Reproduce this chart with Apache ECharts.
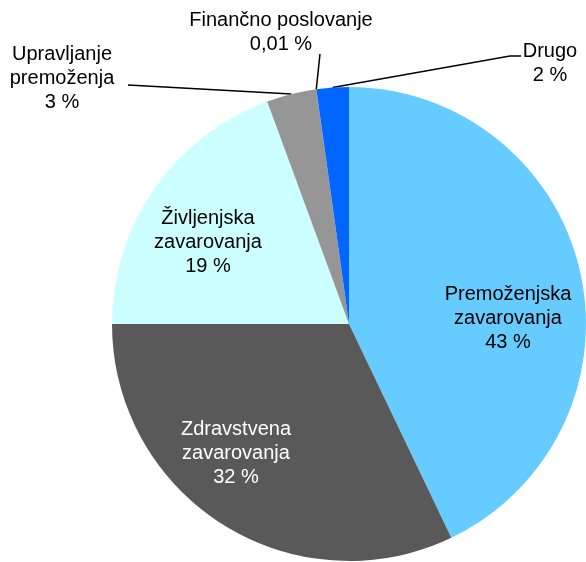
<!DOCTYPE html>
<html><head><meta charset="utf-8">
<script src="https://cdn.jsdelivr.net/npm/echarts@6/dist/echarts.min.js"></script>
<style>html,body{margin:0;padding:0;background:#fff}#c{width:586px;height:562px}</style>
</head><body><div id="c"></div>
<script>
// ---- data ----
const categories = ['Premoženjska\nzavarovanja', 'Zdravstvena\nzavarovanja', 'Življenjska\nzavarovanja', 'Upravljanje\npremoženja', 'Finančno poslovanje', 'Drugo'];
const shares = [42.9, 32.1, 19.4, 3.4, 0.01, 2.2];

// ---- styles / layout ----
const colors = ['#66CCFF', '#595959', '#CCFFFF', '#969696', '#7F7F7F', '#0066FF'];
const textColors = ['#000', '#fff', '#000', '#000', '#000', '#000'];
const outside = [false, false, false, true, true, true];
const labelAnchor = [[508, 318], [236, 453], [208, 242], [62, 78], [281, 32], [550, 63]];
const lineEnds = [null, null, null, [[128, 85]], [[320, 54]], [[510, 56], [521, 56]]];
const CX = 349, CY = 324, R = 237;

function fmtPct(v) {
  return (v >= 1 ? String(Math.round(v)) : String(v).replace('.', ',')) + ' %';
}

const total = shares.reduce((a, b) => a + b, 0);
function arcPoint(i) {
  let cum = 0;
  for (let k = 0; k < i; k++) cum += shares[k];
  const mid = (cum + shares[i] / 2) / total * Math.PI * 2;
  return [CX + R * Math.sin(mid), CY - R * Math.cos(mid)];
}

const data = categories.map((name, i) => ({
  name: name,
  value: shares[i],
  itemStyle: { color: colors[i] },
  label: { position: outside[i] ? 'outside' : 'inside', color: textColors[i] },
  labelLine: { show: outside[i] }
}));

const chart = echarts.init(document.getElementById('c'), null, { renderer: 'canvas' });
chart.setOption({
  animation: false,
  series: [{
    type: 'pie',
    center: [CX, CY],
    radius: R,
    startAngle: 90,
    clockwise: true,
    avoidLabelOverlap: false,
    silent: true,
    itemStyle: { borderWidth: 0 },
    label: {
      show: true,
      fontFamily: 'Liberation Sans, Arial, sans-serif',
      fontSize: 20,
      lineHeight: 24,
      align: 'center',
      formatter: p => p.name + '\n' + fmtPct(p.value)
    },
    labelLine: { show: true, lineStyle: { color: '#000', width: 1.5 }, length: 10, length2: 10 },
    labelLayout: function (p) {
      const i = p.dataIndex;
      const res = { x: labelAnchor[i][0], y: labelAnchor[i][1], align: 'center', verticalAlign: 'middle' };
      if (outside[i]) {
        res.labelLinePoints = [arcPoint(i)].concat(lineEnds[i]);
        if (res.labelLinePoints.length === 2) {
          const a = res.labelLinePoints[0], b = res.labelLinePoints[1];
          res.labelLinePoints = [a, [(a[0] + b[0]) / 2, (a[1] + b[1]) / 2], b];
        }
      }
      return res;
    },
    data: data
  }]
});
</script>
</body></html>
